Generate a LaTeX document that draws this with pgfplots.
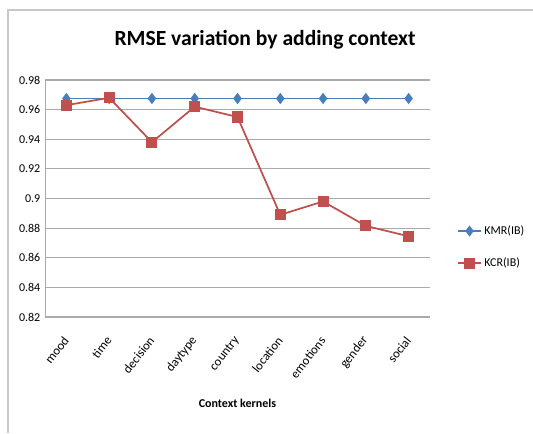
\documentclass[border=0pt]{standalone}
\usepackage{pgfplots}
\pgfplotsset{compat=1.18}
\usepackage{fontspec}
\setmainfont{Carlito}
\definecolor{kmr}{RGB}{74,126,187}
\definecolor{kcr}{RGB}{192,80,77}
\definecolor{gridc}{RGB}{170,170,170}
\definecolor{framec}{RGB}{200,200,200}
\begin{document}
\begin{tikzpicture}
\useasboundingbox (0pt,0pt) rectangle (399.75pt,324.75pt);
\draw[framec,line width=0.8pt] (6pt,0pt) -- (6pt,317.25pt) -- (399.75pt,317.25pt);
\node[font=\bfseries\fontsize{16.2}{18}\selectfont] at (198.75pt,294.75pt) {RMSE variation by adding context};
\begin{axis}[
  at={(33.75pt,87pt)}, anchor=south west,
  scale only axis, width=288.75pt, height=177.75pt,
  xmin=-0.5, xmax=8.5, ymin=0.82, ymax=0.98,
  ytick={0.82,0.84,...,0.98},
  xtick={0,...,8},
  xticklabels={mood,time,decision,daytype,country,location,emotions,gender,social},
  xticklabel style={yshift=-15pt, xshift=0.5pt, rotate=52, anchor=east, font=\fontsize{9.5}{10}\selectfont, inner sep=1pt},
  yticklabel style={font=\fontsize{9}{10}\selectfont},
  /pgf/number format/assume math mode=true,
  yticklabel={\pgfmathprintnumber[fixed,precision=2]{\tick}},
  axis x line*=bottom, axis y line*=left,
  axis line style={gridc, -},
  major tick length=0pt,
  ymajorgrids, grid style={gridc, line width=0.8pt},
  xlabel={\bfseries Context kernels},
  xlabel style={font=\fontsize{9}{10}\selectfont, yshift=-10pt},
  legend style={at={(1.06,0.295)}, anchor=west, draw=none, fill=none,
    font=\fontsize{9}{10}\selectfont, row sep=12pt},
  legend cell align=left,
  legend image post style={line width=1.2pt},
]
\addplot[kmr, line width=1.3pt, mark=diamond*, mark size=3.2pt, mark options={fill=kmr}]
  coordinates {(0,0.9675)(1,0.9675)(2,0.9675)(3,0.9675)(4,0.9675)(5,0.9675)(6,0.9675)(7,0.9675)(8,0.9675)};
\addlegendentry{KMR(IB)}
\addplot[kcr, line width=1.3pt, mark=square*, mark size=3.5pt, mark options={fill=kcr}]
  coordinates {(0,0.963)(1,0.968)(2,0.938)(3,0.962)(4,0.955)(5,0.889)(6,0.898)(7,0.8815)(8,0.8745)};
\addlegendentry{KCR(IB)}
\end{axis}
\end{tikzpicture}
\end{document}
